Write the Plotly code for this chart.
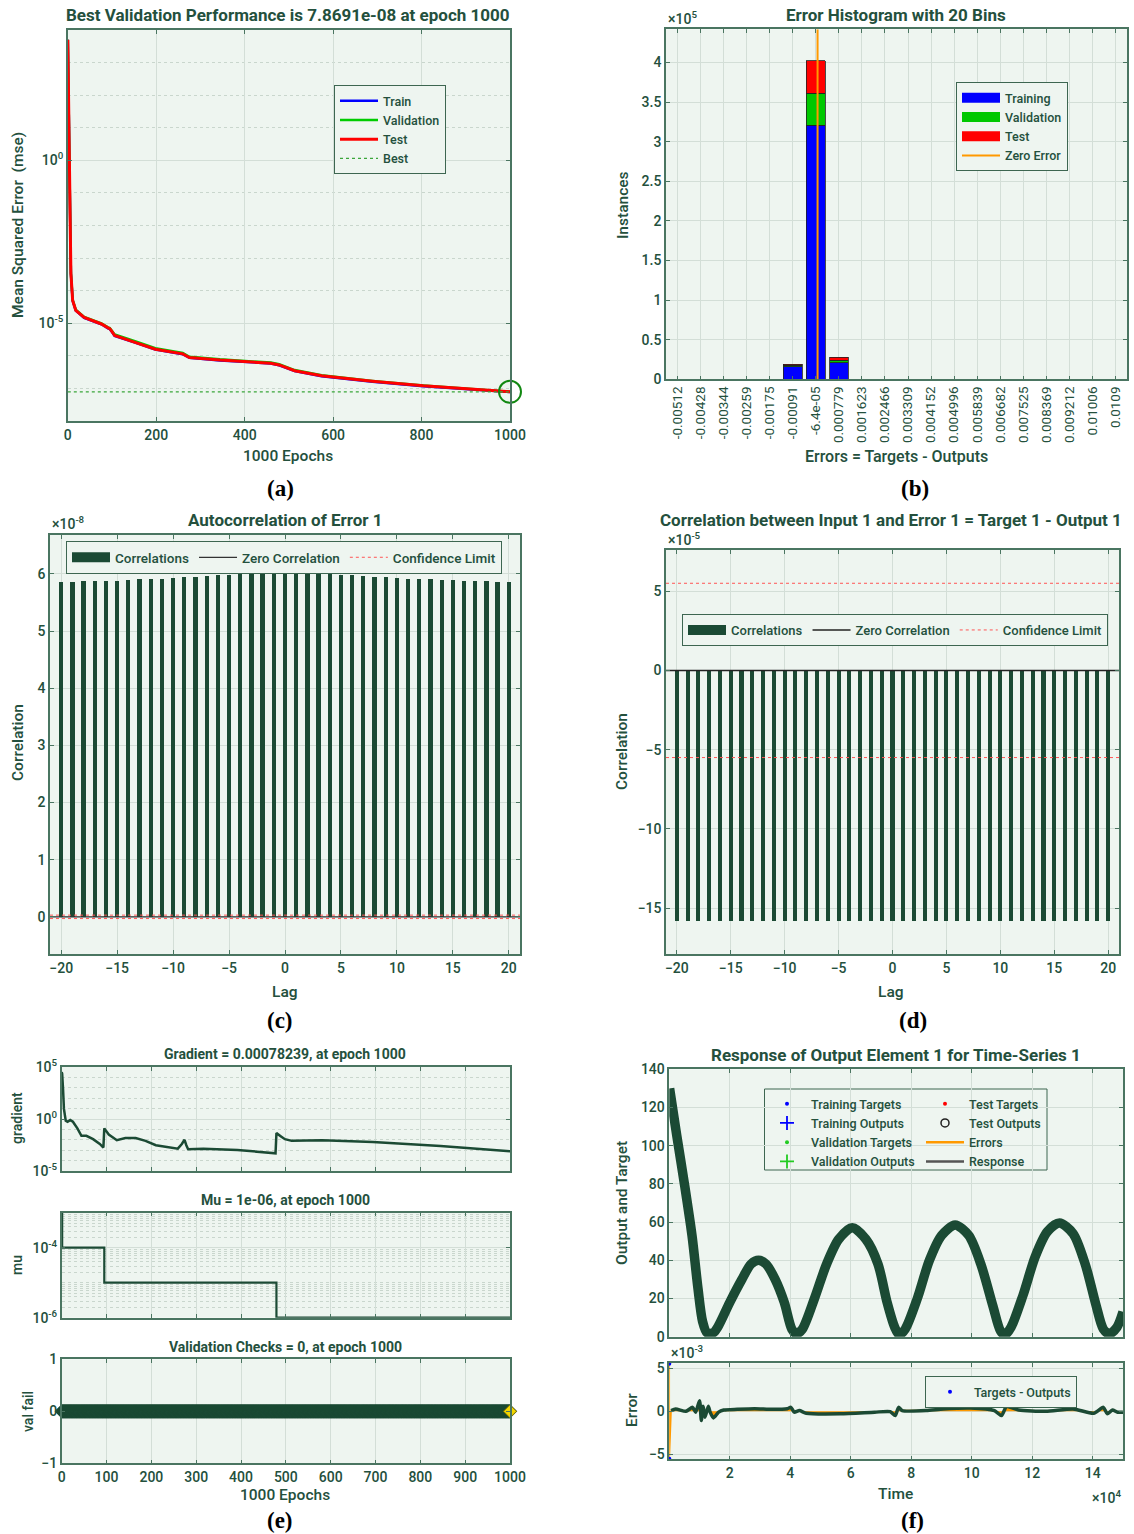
import numpy as np
import plotly.graph_objects as go

W, H = 1134, 1534
FONT = "Roboto"
FONT_M = "Roboto Medium, Roboto"
TXT = "#24503d"
FRAME = "#4a7561"
GRID = "#d3ded7"
BG = "#eef5f0"
DG = "#1b4a34"

# ---------------- (a) performance ----------------
perf_epochs = [0, 1, 2, 3, 4, 5, 7, 11, 18, 37, 76, 91, 95, 100, 106, 152, 198, 260, 275, 344,
               459, 478, 513, 574, 689, 804, 919, 1000]
perf_train = [5.0e3, 4.0e2, 1.0e1, 3.1e-1, 2.4e-2, 3.4e-3, 3.3e-4, 4.9e-5, 2.45e-5, 1.47e-5, 9.3e-6,
              7.0e-6, 6.6e-6, 5.4e-6, 4.1e-6, 2.55e-6, 1.57e-6, 1.12e-6, 8.7e-7, 7.25e-7, 5.8e-7,
              5.15e-7, 3.42e-7, 2.38e-7, 1.6e-7, 1.16e-7, 9.2e-8, 7.7e-8]
perf_val = [5.0e3, 4.0e2, 1.0e1, 3.3e-1, 2.6e-2, 3.6e-3, 3.5e-4, 5.2e-5, 2.6e-5, 1.56e-5, 9.9e-6,
            7.5e-6, 7.1e-6, 5.8e-6, 4.5e-6, 2.8e-6, 1.72e-6, 1.23e-6, 9.4e-7, 7.8e-7, 6.2e-7,
            5.5e-7, 3.65e-7, 2.52e-7, 1.7e-7, 1.22e-7, 9.6e-8, 7.8691e-8]
perf_test = [5.0e3, 4.0e2, 1.0e1, 3.2e-1, 2.5e-2, 3.5e-3, 3.4e-4, 5.0e-5, 2.5e-5, 1.5e-5, 9.5e-6,
             7.2e-6, 6.8e-6, 5.5e-6, 4.2e-6, 2.6e-6, 1.6e-6, 1.15e-6, 8.9e-7, 7.4e-7, 5.9e-7,
             5.25e-7, 3.5e-7, 2.45e-7, 1.66e-7, 1.2e-7, 9.5e-8, 7.9e-8]
best_epoch = 1000
best_perf = 7.8691e-08

# ---------------- (b) error histogram ----------------
hist_bins = ['-0.00512', '-0.00428', '-0.00344', '-0.00259', '-0.00175', '-0.00091', '-6.4e-05',
             '0.000779', '0.001623', '0.002466', '0.003309', '0.004152', '0.004996', '0.005839',
             '0.006682', '0.007525', '0.008369', '0.009212', '0.01006', '0.0109']
hist_train = [0, 0, 0, 0, 0, 15900, 321000, 20900, 0, 0, 0, 0, 0, 0, 0, 0, 0, 0, 0, 0]
hist_val = [0, 0, 0, 0, 0, 1700, 40000, 3400, 0, 0, 0, 0, 0, 0, 0, 0, 0, 0, 0, 0]
hist_test = [0, 0, 0, 0, 0, 1700, 41000, 3400, 0, 0, 0, 0, 0, 0, 0, 0, 0, 0, 0, 0]
hist_ticks = [0, 50000, 100000, 150000, 200000, 250000, 300000, 350000, 400000]
hist_ticktext = ['0', '0.5', '1', '1.5', '2', '2.5', '3', '3.5', '4']

# ---------------- (c) autocorrelation (x1e-8) ----------------
lags = list(range(-20, 21))
autocorr_e8 = [5.856, 5.861, 5.867, 5.873, 5.879, 5.884, 5.896, 5.902, 5.913, 5.919, 5.931,
               5.942, 5.954, 5.965, 5.977, 5.988, 6.000, 6.012, 6.023, 6.040, 6.075, 6.046,
               6.029, 6.012, 6.000, 5.988, 5.977, 5.965, 5.954, 5.942, 5.931, 5.919, 5.908,
               5.902, 5.896, 5.890, 5.879, 5.873, 5.867, 5.861, 5.861]
conf_c_e8 = 0.03

# ---------------- (d) input-error correlation (x1e-5) ----------------
xcorr_e5 = [-15.8, -15.8, -15.8, -15.8, -15.8, -15.8, -15.8, -15.8, -15.8, -15.8, -15.8,
            -15.8, -15.8, -15.8, -15.8, -15.8, -15.8, -15.8, -15.8, -15.8, -15.8, -15.8,
            -15.8, -15.8, -15.8, -15.8, -15.8, -15.8, -15.8, -15.8, -15.8, -15.8, -15.8,
            -15.8, -15.8, -15.8, -15.8, -15.8, -15.8, -15.8, -15.8]
conf_d_e5 = 5.5

# ---------------- (e) training state ----------------
grad_epochs = [0, 1, 3, 5, 9, 13, 19, 25, 35, 44, 55, 70, 85, 93, 95, 105, 123, 142, 165, 187,
               210, 240, 259, 268, 274, 278, 282, 316, 392, 477, 479, 490, 498, 513, 581, 694,
               845, 1000]
grad_vals = [3.2e4, 2.3e4, 7.9e2, 9.3, 0.69, 0.55, 0.79, 0.55, 0.126, 0.024, 0.024, 0.0115,
             0.004, 0.0018, 0.126, 0.032, 0.0091, 0.0145, 0.0145, 0.0079, 0.003, 0.0018,
             0.0014, 0.004, 0.01, 0.003, 0.00123, 0.0014, 0.00105, 0.0005, 0.0437, 0.02,
             0.0115, 0.0079, 0.0091, 0.0063, 0.0026, 0.00078239]
mu_epochs = [0, 1, 95, 479, 1000]
mu_vals = [1e-3, 1e-4, 1e-5, 1e-6, 1e-6]
val_epochs = list(range(0, 1001))
val_fail = [0] * 1001

# ---------------- (f) response ----------------
resp_time = [100, 2500, 5000, 7500, 9500, 11000, 12500, 14500, 16000, 20000, 24000, 27000,
             29500, 32000, 35000, 38000, 40500, 42000, 44000, 48000, 52000, 56000, 60500,
             65000, 69000, 72000, 74500, 76000, 78000, 82000, 86000, 90000, 94500, 99000,
             103000, 107000, 109500, 111000, 113000, 117000, 121000, 125000, 129000, 133500,
             137500, 141000, 143500, 145500, 148000, 150000]
resp_val = [130, 105, 80, 53, 25, 8, 2, 2, 5, 18, 30, 38, 40, 38, 30, 18, 4, 1.5, 4, 20, 38,
            51, 57, 51, 38, 18, 5, 1, 4, 20, 40, 53, 58.5, 53, 38, 16, 3, 1, 5, 22, 42, 55,
            59.5, 54, 38, 17, 4, 1.5, 5, 13]
err_time = [1, 2, 600, 2100, 5500, 7700, 8700, 10000, 10600, 11200, 11800, 12900, 13500, 14600,
            16300, 18000, 22500, 28200, 34000, 39000, 40200, 41300, 43000, 45300, 56600, 67900,
            73000, 74700, 75800, 77000, 84900, 90600, 99600, 107500, 109800, 111500, 115500,
            124500, 133500, 140300, 143500, 144800, 146500, 148200, 150000]
err_e3 = [5.55, -5.55, 0.08, 0.27, 0.0, 0.46, -0.1, 1.23, -1.07, 0.6, -0.7, 0.6, -0.1, -0.77,
          -0.1, 0.15, 0.23, 0.3, 0.23, 0.3, 0.46, -0.1, 0.08, -0.23, -0.3, -0.1, -0.04, -0.5,
          0.46, 0.08, 0.08, 0.27, 0.38, 0.08, -0.5, 0.54, 0.15, 0.0, 0.27, -0.23, 0.46, -0.3,
          0.15, -0.1, -0.1]
time_ticks = [20000, 40000, 60000, 80000, 100000, 120000, 140000]
time_ticktext = ['2', '4', '6', '8', '10', '12', '14']


# ---------------- helpers ----------------
def dx(a, b):
    return [a / W, b / W]


def dy(top, bottom):
    return [1 - bottom / H, 1 - top / H]


def ann(x, y, s, size=13, bold=False, angle=0, family=FONT_M, color=TXT, xa='center', ya='middle'):
    return dict(x=x / W, y=1 - y / H, xref='paper', yref='paper', text=s, showarrow=False,
                font=dict(family=family, size=size, color=color,
                          weight='bold' if bold else 'normal'),
                textangle=angle, xanchor=xa, yanchor=ya)


def axis(**kw):
    base = dict(showline=True, linecolor=FRAME, linewidth=1.5, mirror='allticks',
                ticks='inside', ticklen=4, tickcolor=FRAME, tickwidth=1, automargin=False,
                showgrid=True, gridcolor=GRID, gridwidth=1, zeroline=False,
                tickfont=dict(family=FONT_M, size=14, color=TXT))
    base.update(kw)
    return base


fig = go.Figure()

# ---- (a) ----
fig.add_trace(go.Scatter(x=perf_epochs, y=perf_train, mode='lines', name='Train',
                         line=dict(color='#0000ff', width=2.5), xaxis='x', yaxis='y', legend='legend'))
fig.add_trace(go.Scatter(x=perf_epochs, y=perf_val, mode='lines', name='Validation',
                         line=dict(color='#00cc00', width=2.5), xaxis='x', yaxis='y', legend='legend'))
fig.add_trace(go.Scatter(x=perf_epochs, y=perf_test, mode='lines', name='Test',
                         line=dict(color='#ff0000', width=3), xaxis='x', yaxis='y', legend='legend'))
fig.add_trace(go.Scatter(x=[0, 1000], y=[best_perf, best_perf], mode='lines', name='Best',
                         line=dict(color='#3aa63a', width=1.3, dash='dot'), xaxis='x', yaxis='y',
                         legend='legend'))
fig.add_trace(go.Scatter(x=[best_epoch], y=[best_perf], mode='markers', showlegend=False,
                         marker=dict(symbol='circle-open', size=22, color='#118811',
                                     line=dict(width=2, color='#118811')),
                         cliponaxis=False, xaxis='x', yaxis='y'))

# ---- (b) ----
bin_idx = list(range(len(hist_bins)))
hist_centers = [float(s) for s in hist_bins]
zero_pos = float(np.interp(0.0, hist_centers, bin_idx))
for vals, col in [(hist_train, '#0000ff'), (hist_val, '#00c800'), (hist_test, '#ff0000')]:
    fig.add_trace(go.Bar(x=bin_idx, y=vals, width=0.81, marker=dict(color=col, line=dict(color='#222', width=0.8)),
                         showlegend=False, xaxis='x2', yaxis='y2'))
for nm, col in [('Training', '#0000ff'), ('Validation', '#00c800'), ('Test', '#ff0000')]:
    fig.add_trace(go.Scatter(x=[None], y=[None], mode='lines', name=nm, line=dict(color=col, width=10),
                             xaxis='x2', yaxis='y2', legend='legend2'))
fig.add_trace(go.Scatter(x=[zero_pos, zero_pos], y=[0, 442000], mode='lines', name='Zero Error',
                         line=dict(color='#ff9900', width=2), xaxis='x2', yaxis='y2', legend='legend2'))

# ---- (c) ----
fig.add_trace(go.Bar(x=lags, y=autocorr_e8, width=0.38, marker=dict(color=DG, line=dict(width=0)),
                     showlegend=False, xaxis='x3', yaxis='y3'))
fig.add_trace(go.Scatter(x=[None], y=[None], mode='lines', name='Correlations', line=dict(color=DG, width=10),
                         xaxis='x3', yaxis='y3', legend='legend3'))
fig.add_trace(go.Scatter(x=[-21, 21], y=[0, 0], mode='lines', name='Zero Correlation',
                         line=dict(color='#333', width=1.3), xaxis='x3', yaxis='y3', legend='legend3'))
fig.add_trace(go.Scatter(x=[-21, 21, None, -21, 21], y=[conf_c_e8, conf_c_e8, None, -conf_c_e8, -conf_c_e8],
                         mode='lines', name='Confidence Limit', line=dict(color='#ff5555', width=1, dash='dot'),
                         xaxis='x3', yaxis='y3', legend='legend3'))

# ---- (d) ----
fig.add_trace(go.Bar(x=lags, y=xcorr_e5, width=0.38, marker=dict(color=DG, line=dict(width=0)),
                     showlegend=False, xaxis='x4', yaxis='y4'))
fig.add_trace(go.Scatter(x=[None], y=[None], mode='lines', name='Correlations', line=dict(color=DG, width=10),
                         xaxis='x4', yaxis='y4', legend='legend4'))
fig.add_trace(go.Scatter(x=[-21, 21], y=[0, 0], mode='lines', name='Zero Correlation',
                         line=dict(color='#222', width=1.5), xaxis='x4', yaxis='y4', legend='legend4'))
fig.add_trace(go.Scatter(x=[-21, 21, None, -21, 21], y=[conf_d_e5, conf_d_e5, None, -conf_d_e5, -conf_d_e5],
                         mode='lines', name='Confidence Limit', line=dict(color='#ff5555', width=1, dash='dot'),
                         xaxis='x4', yaxis='y4', legend='legend4'))

# ---- (e) ----
fig.add_trace(go.Scatter(x=grad_epochs, y=grad_vals, mode='lines', line=dict(color=DG, width=2.5),
                         showlegend=False, xaxis='x5', yaxis='y5'))
fig.add_trace(go.Scatter(x=mu_epochs, y=mu_vals, mode='lines', line=dict(color=DG, width=2.2, shape='hv'),
                         showlegend=False, xaxis='x6', yaxis='y6'))
fig.add_trace(go.Scatter(x=val_epochs, y=val_fail, mode='lines+markers', line=dict(color=DG, width=5),
                         marker=dict(symbol='diamond', size=11, color=DG, line=dict(width=0)),
                         cliponaxis=False, showlegend=False, xaxis='x7', yaxis='y7'))
fig.add_trace(go.Scatter(x=[val_epochs[-1]], y=[val_fail[-1]], mode='markers',
                         marker=dict(symbol='diamond', size=10, color='#f2d600', line=dict(width=1, color='#8a7a00')),
                         cliponaxis=False, showlegend=False, xaxis='x7', yaxis='y7'))

# ---- (f) ----
fig.add_trace(go.Scatter(x=resp_time, y=resp_val, mode='lines', line=dict(color=DG, width=9.5, shape='spline', smoothing=0.8),
                         showlegend=False, xaxis='x8', yaxis='y8'))
legend_f_left = [('Training Targets', dict(symbol='circle', size=4, color='#0000ff')),
                 ('Training Outputs', dict(symbol='cross-thin', size=10, color='#0000ff', line=dict(width=1.8, color='#0000ff'))),
                 ('Validation Targets', dict(symbol='circle', size=4, color='#22cc22')),
                 ('Validation Outputs', dict(symbol='cross-thin', size=10, color='#22cc22', line=dict(width=1.8, color='#22cc22')))]
for nm, mk in legend_f_left:
    fig.add_trace(go.Scatter(x=[None], y=[None], mode='markers', name=nm, marker=mk,
                             xaxis='x8', yaxis='y8', legend='legend5'))
fig.add_trace(go.Scatter(x=[None], y=[None], mode='markers', name='Test Targets',
                         marker=dict(symbol='circle', size=4, color='#ff0000'), xaxis='x8', yaxis='y8', legend='legend6'))
fig.add_trace(go.Scatter(x=[None], y=[None], mode='markers', name='Test Outputs',
                         marker=dict(symbol='circle-open', size=8, color='#222', line=dict(width=1.5, color='#222')),
                         xaxis='x8', yaxis='y8', legend='legend6'))
fig.add_trace(go.Scatter(x=[None], y=[None], mode='lines', name='Errors', line=dict(color='#ff9900', width=2.5),
                         xaxis='x8', yaxis='y8', legend='legend6'))
fig.add_trace(go.Scatter(x=[None], y=[None], mode='lines', name='Response', line=dict(color='#555', width=2.5),
                         xaxis='x8', yaxis='y8', legend='legend6'))

fig.add_trace(go.Scatter(x=err_time, y=err_e3, mode='lines', fill='tozeroy', fillcolor='#ff9900',
                         line=dict(color='#ff9900', width=1.5), showlegend=False, xaxis='x9', yaxis='y9'))
fig.add_trace(go.Scatter(x=err_time[2:], y=err_e3[2:], mode='lines', line=dict(color=DG, width=3.5, shape='spline', smoothing=0.6),
                         showlegend=False, xaxis='x9', yaxis='y9'))
fig.add_trace(go.Scatter(x=err_time[:2], y=err_e3[:2], mode='markers', name='Targets - Outputs',
                         marker=dict(symbol='circle', size=4, color='#0000ff'), cliponaxis=False,
                         xaxis='x9', yaxis='y9', legend='legend7'))

# ---------------- axes ----------------
decades_a = [10.0 ** k for k in range(-8, 5)]
decades_e = [10.0 ** k for k in range(-5, 6)]
mu_minor = [m * 10.0 ** k for k in range(-6, -3) for m in range(1, 10)] + [1e-3]
MINOR = dict(showgrid=True, gridcolor='#c9d6cd', griddash='dot', ticks='')

layout_axes = dict(
    xaxis=axis(domain=dx(67.8, 510), anchor='y', range=[0, 1000], tickvals=[0, 200, 400, 600, 800, 1000]),
    yaxis=axis(domain=dy(30, 421), anchor='x', type='log', range=[-8, 4],
               tickvals=[1, 1e-5], ticktext=['10<sup>0</sup>', '10<sup>-5</sup>'],
               minor=dict(tickvals=decades_a, **MINOR)),
    xaxis2=axis(domain=dx(666, 1127), anchor='y2', range=[-0.5, 19.5], tickvals=bin_idx, ticktext=hist_bins,
                tickangle=-90, tickfont=dict(family=FONT, size=13.5, color=TXT)),
    yaxis2=axis(domain=dy(29.3, 379.3), anchor='x2', range=[0, 442000], tickvals=hist_ticks, ticktext=hist_ticktext),
    xaxis3=axis(domain=dx(50, 520), anchor='y3', range=[-21, 21], tickvals=[-20, -15, -10, -5, 0, 5, 10, 15, 20]),
    yaxis3=axis(domain=dy(535, 954), anchor='x3', range=[-0.65, 6.68], tickvals=[0, 1, 2, 3, 4, 5, 6]),
    xaxis4=axis(domain=dx(666, 1119), anchor='y4', range=[-21, 21], tickvals=[-20, -15, -10, -5, 0, 5, 10, 15, 20]),
    yaxis4=axis(domain=dy(550, 954), anchor='x4', range=[-17.9, 7.6], tickvals=[-15, -10, -5, 0, 5]),
    xaxis5=axis(domain=dx(61.7, 510), anchor='y5', range=[0, 1000], dtick=100, showticklabels=False),
    yaxis5=axis(domain=dy(1067, 1171), anchor='x5', type='log', range=[-5, 5],
                tickvals=[1e-5, 1, 1e5], ticktext=['10<sup>-5</sup>', '10<sup>0</sup>', '10<sup>5</sup>'],
                minor=dict(tickvals=decades_e, **MINOR)),
    xaxis6=axis(domain=dx(61.7, 510), anchor='y6', range=[0, 1000], dtick=100, showticklabels=False),
    yaxis6=axis(domain=dy(1212.7, 1317.7), anchor='x6', type='log', range=[-6, -3],
                tickvals=[1e-6, 1e-4], ticktext=['10<sup>-6</sup>', '10<sup>-4</sup>'],
                minor=dict(tickvals=mu_minor, **MINOR)),
    xaxis7=axis(domain=dx(61.7, 510), anchor='y7', range=[0, 1000], dtick=100),
    yaxis7=axis(domain=dy(1359.3, 1463.3), anchor='x7', range=[-1, 1], tickvals=[-1, 0, 1], showgrid=False),
    xaxis8=axis(domain=dx(669.3, 1123), anchor='y8', range=[0, 150000], tickvals=time_ticks, showticklabels=False),
    yaxis8=axis(domain=dy(1069.3, 1336.7), anchor='x8', range=[0, 140], dtick=20),
    xaxis9=axis(domain=dx(669.3, 1123), anchor='y9', range=[0, 150000], tickvals=time_ticks, ticktext=time_ticktext),
    yaxis9=axis(domain=dy(1363.3, 1459.3), anchor='x9', range=[-5.6, 5.6], tickvals=[-5, 0, 5]),
)


def leg(x, y, orient='v', border=True, size=12.5):
    return dict(x=x / W, y=1 - y / H, xanchor='left', yanchor='top', xref='paper', yref='paper',
                orientation=orient, bgcolor=BG if border else 'rgba(0,0,0,0)',
                bordercolor='#3d6651' if border else 'rgba(0,0,0,0)', borderwidth=1 if border else 0,
                font=dict(family=FONT_M, size=size, color=TXT), itemwidth=38, tracegroupgap=0,
                traceorder='normal', itemclick=False)


annotations = [
    # (a)
    ann(288, 15, 'Best Validation Performance is 7.8691e-08 at epoch 1000', size=17, bold=True, family=FONT),
    ann(288, 456, '1000 Epochs', size=15.5),
    ann(18, 225, 'Mean Squared Error  (mse)', size=15.5, angle=-90),
    ann(280, 488, '(a)', size=23, bold=True, family='Liberation Serif', color='#000'),
    # (b)
    ann(896, 15, 'Error Histogram with 20 Bins', size=17, bold=True, family=FONT),
    ann(666, 18, '×10<sup>5</sup>', size=14, xa='left'),
    ann(896, 456, 'Errors = Targets - Outputs', size=16),
    ann(623, 205, 'Instances', size=15.5, angle=-90),
    ann(915, 488, '(b)', size=23, bold=True, family='Liberation Serif', color='#000'),
    # (c)
    ann(285, 520, 'Autocorrelation of Error 1', size=17, bold=True, family=FONT),
    ann(50, 523, '×10<sup>-8</sup>', size=14, xa='left'),
    ann(285, 992, 'Lag', size=15.5),
    ann(18, 743, 'Correlation', size=15.5, angle=-90),
    ann(280, 1020, '(c)', size=23, bold=True, family='Liberation Serif', color='#000'),
    # (d)
    ann(891, 520, 'Correlation between Input 1 and Error 1 = Target 1 - Output 1', size=17, bold=True, family=FONT),
    ann(666, 539, '×10<sup>-5</sup>', size=14, xa='left'),
    ann(891, 992, 'Lag', size=15.5),
    ann(622, 752, 'Correlation', size=15.5, angle=-90),
    ann(913, 1020, '(d)', size=23, bold=True, family='Liberation Serif', color='#000'),
    # (e)
    ann(285, 1054, 'Gradient = 0.00078239, at epoch 1000', size=14, bold=True, family=FONT),
    ann(285, 1200, 'Mu = 1e-06, at epoch 1000', size=14, bold=True, family=FONT),
    ann(285, 1347, 'Validation Checks = 0, at epoch 1000', size=14, bold=True, family=FONT),
    ann(285, 1495, '1000 Epochs', size=15.5),
    ann(17, 1118, 'gradient', size=14, angle=-90),
    ann(17, 1265, 'mu', size=14, angle=-90),
    ann(28, 1412, 'val fail', size=14, angle=-90),
    ann(280, 1520, '(e)', size=23, bold=True, family='Liberation Serif', color='#000'),
    # (f)
    ann(896, 1055, 'Response of Output Element 1 for Time-Series 1', size=17, bold=True, family=FONT),
    ann(622, 1203, 'Output and Target', size=15.5, angle=-90),
    ann(669, 1352, '×10<sup>-3</sup>', size=14, xa='left'),
    ann(632, 1410, 'Error', size=15.5, angle=-90),
    ann(895, 1494, 'Time', size=15.5),
    ann(1123, 1497, '×10<sup>4</sup>', size=14, xa='right'),
    ann(912, 1520, '(f)', size=23, bold=True, family='Liberation Serif', color='#000'),
]

shapes = [
    dict(type='rect', xref='paper', yref='paper', x0=764.5 / W, x1=1047 / W, y0=1 - 1170 / H, y1=1 - 1089 / H,
         line=dict(color='#3d6651', width=1), fillcolor=BG, layer='below'),
]

fig.update_layout(
    width=W, height=H, margin=dict(l=0, r=0, t=0, b=0, autoexpand=False),
    paper_bgcolor='white', plot_bgcolor=BG, barmode='stack',
    font=dict(family=FONT, size=13, color=TXT),
    legend=leg(334, 85),
    legend2=leg(956, 82),
    legend3=leg(66, 541, 'h', size=13.5),
    legend4=leg(682, 614, 'h', size=13),
    legend5=leg(763, 1089, 'v', border=False),
    legend6=leg(921, 1089, 'v', border=False),
    legend7=leg(925, 1376),
    annotations=annotations, shapes=shapes,
    **layout_axes,
)

fig.write_html("out.html")
